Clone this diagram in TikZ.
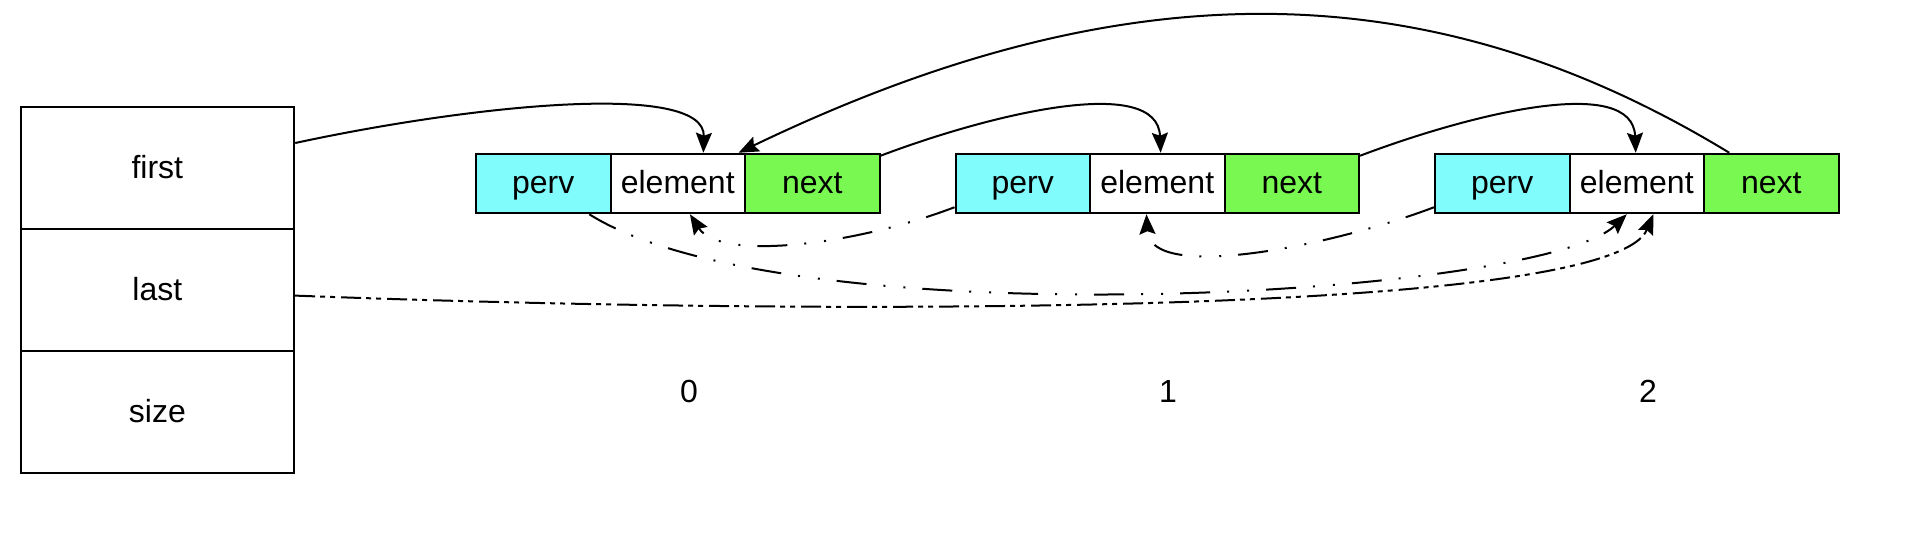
\documentclass[tikz,border=0pt]{standalone}
\usepackage{fontspec}
\setmainfont{Liberation Sans}
\usetikzlibrary{arrows.meta}
\definecolor{pervfill}{RGB}{128,252,252}
\definecolor{nextfill}{RGB}{120,248,80}
\tikzset{
  cell/.style={draw, line width=1pt, minimum width=67.25pt, minimum height=29.75pt, inner sep=0pt, text height=13pt, text depth=3pt, font=\fontsize{16}{19}\selectfont},
  pervcell/.style={cell, fill=pervfill},
  elemcell/.style={cell, fill=white},
  nextcell/.style={cell, fill=nextfill},
  listcell/.style={draw, line width=1pt, minimum width=136.85pt, minimum height=61pt, inner sep=0pt, text height=13pt, text depth=3pt, font=\fontsize{16}{19}\selectfont},
  idx/.style={inner sep=0pt, font=\fontsize{16}{19}\selectfont},
  tip/.style={-{Stealth[length=10pt,width=8pt,inset=1.5pt]}},
  link/.style={line width=1pt, tip},
  backlink/.style={line width=1pt, tip, dash pattern=on 15pt off 8.5pt on 1pt off 9pt on 1pt off 8.5pt},
  lastlink/.style={line width=1pt, tip, dash pattern=on 10pt off 2.5pt on 2.5pt off 2.5pt on 2.5pt off 3pt}
}
\begin{document}
\begin{tikzpicture}[x=0.5pt,y=-0.5pt]
\useasboundingbox (0,0) rectangle (1930,542);
% list header
\node[listcell] (fst) at (157.35,168) {first};
\node[listcell] (lst) at (157.35,290) {last};
\node[listcell] (siz) at (157.35,412) {size};
% node 0
\node[pervcell] (p0) at (543.25,183.5) {perv};
\node[elemcell] (e0) at (677.75,183.5) {element};
\node[nextcell] (n0) at (812.25,183.5) {next};
% node 1
\node[pervcell] (p1) at (1022.75,183.5) {perv};
\node[elemcell] (e1) at (1157.25,183.5) {element};
\node[nextcell] (n1) at (1291.75,183.5) {next};
% node 2
\node[pervcell] (p2) at (1502.25,183.5) {perv};
\node[elemcell] (e2) at (1636.75,183.5) {element};
\node[nextcell] (n2) at (1771.25,183.5) {next};
% indices
\node[idx] (i0) at (689,391) {0};
\node[idx] (i1) at (1168,391) {1};
\node[idx] (i2) at (1648,391) {2};
% endpoints
\coordinate (a1s) at ([yshift=12.5pt]fst.east);
\coordinate (a1e) at ([xshift=12.8pt]e0.north);
\coordinate (a2s) at ([xshift=-21pt]n2.north);
\coordinate (a2e) at ([xshift=30.4pt]e0.north);
\coordinate (a3s) at ([yshift=-1.5pt]n0.north east);
\coordinate (a3e) at ([xshift=1.7pt]e1.north);
\coordinate (a4s) at ([yshift=-1.5pt]n1.north east);
\coordinate (a4e) at ([xshift=-0.5pt]e2.north);
\coordinate (b1s) at ([yshift=3.5pt]p1.south west);
\coordinate (b1e) at ([xshift=6.1pt]e0.south);
\coordinate (b2s) at ([yshift=3.5pt]p2.south west);
\coordinate (b2e) at ([xshift=-5.4pt]e1.south);
\coordinate (b3s) at ([xshift=23pt]p0.south);
\coordinate (b3e) at ([xshift=-5pt]e2.south);
\coordinate (c1s) at ([yshift=-2.8pt]lst.east);
\coordinate (c1e) at ([xshift=8.3pt]e2.south);
% forward links
\draw[link] (a1s) .. controls +(176,-38) and +(2,-72) .. (a1e);
\draw[link] (a2s) .. controls +(-302,-184) and +(382.5,-184) .. (a2e);
\draw[link] (a3s) .. controls +(111,-42) and +(-3,-79) .. (a3e);
\draw[link] (a4s) .. controls +(111,-42) and +(-3,-79) .. (a4e);
% back links
\draw[backlink] (b1s) .. controls +(-100,38) and +(30,47) .. (b1e);
\draw[backlink] (b2s) .. controls +(-100,38) and +(3.5,69) .. (b2e);
\draw[backlink] (b3s) .. controls +(200.5,126) and +(-86.7,83) .. (b3e);
\draw[lastlink] (c1s) .. controls +(506,19.4) and +(-43.3,104) .. (c1e);
\end{tikzpicture}
\end{document}
